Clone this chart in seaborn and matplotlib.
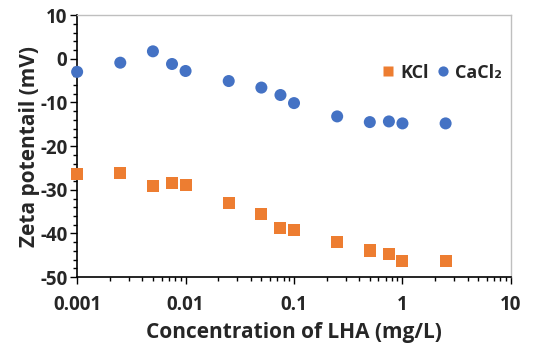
"""Zeta potential vs LHA concentration for KCl and CaCl2."""

import matplotlib

matplotlib.use("Agg", force=True)

import matplotlib.pyplot as plt
import matplotlib.ticker as mticker
import pandas as pd
import seaborn as sns

conc = [0.001, 0.0025, 0.005, 0.0075, 0.01, 0.025, 0.05, 0.075, 0.1,
        0.25, 0.5, 0.75, 1.0, 2.5]
zeta_kcl = [-26.4, -26.1, -29.2, -28.4, -28.9, -33.0, -35.6, -38.7, -39.1,
            -42.0, -43.9, -44.8, -46.3, -46.3]
zeta_cacl2 = [-3.0, -0.9, 1.7, -1.2, -2.8, -5.1, -6.6, -8.3, -10.15,
              -13.2, -14.5, -14.35, -14.8, -14.8]
series_names = ["KCl", "CaCl₂"]

df = pd.concat([
    pd.DataFrame({"conc": conc, "zeta": zeta_kcl, "salt": series_names[0]}),
    pd.DataFrame({"conc": conc, "zeta": zeta_cacl2, "salt": series_names[1]}),
])

sns.set_style("ticks")
plt.rcParams["font.family"] = ["Open Sans", "DejaVu Sans"]
plt.rcParams["font.weight"] = "bold"
plt.rcParams["axes.unicode_minus"] = False

fig = plt.figure(figsize=(5.47, 3.59), dpi=100)
ax = fig.add_axes([0.141, 0.228, 0.793, 0.730])

sns.scatterplot(
    data=df, x="conc", y="zeta", hue="salt", style="salt",
    hue_order=series_names, style_order=series_names,
    palette=["#ED7D31", "#4472C4"], markers=["s", "o"],
    s=75, edgecolor="none", ax=ax, clip_on=False, zorder=3,
)

ax.set_xscale("log")
ax.set_xlim(0.001, 10)
ax.set_ylim(-50, 10)
ax.set_yticks(range(-50, 11, 10))
ax.yaxis.set_minor_locator(mticker.MultipleLocator(2))
ax.xaxis.set_major_formatter(mticker.FuncFormatter(lambda v, _: f"{v:g}"))
ax.xaxis.set_minor_formatter(mticker.NullFormatter())

ax.tick_params(axis="both", which="major", labelsize=13.5, length=5, width=1,
               color="black")
ax.tick_params(axis="x", which="major", pad=8)
ax.tick_params(axis="y", which="major", pad=2)
ax.tick_params(axis="both", which="minor", length=3, width=1, color="black")
for lab in ax.get_xticklabels() + ax.get_yticklabels():
    lab.set_fontweight("bold")

for side in ["left", "bottom"]:
    ax.spines[side].set_color("black")
    ax.spines[side].set_linewidth(1.2)
for side in ["top", "right"]:
    ax.spines[side].set_visible(True)
    ax.spines[side].set_color("#BFBFBF")
    ax.spines[side].set_linewidth(1)

ax.set_xlabel("Concentration of LHA (mg/L)", fontsize=15, fontweight="bold",
              labelpad=5)
ax.set_ylabel("Zeta potentail (mV)", fontsize=15, fontweight="bold",
              labelpad=0)

ax.legend(loc="center left", bbox_to_anchor=(0.705, 0.78), ncol=2,
          frameon=False, handlelength=0.6, handletextpad=0.35,
          columnspacing=0.5, markerscale=0.85, borderaxespad=0,
          borderpad=0, prop={"weight": "bold", "size": 13})

fig.savefig("out.png", dpi=100)
plt.close(fig)
